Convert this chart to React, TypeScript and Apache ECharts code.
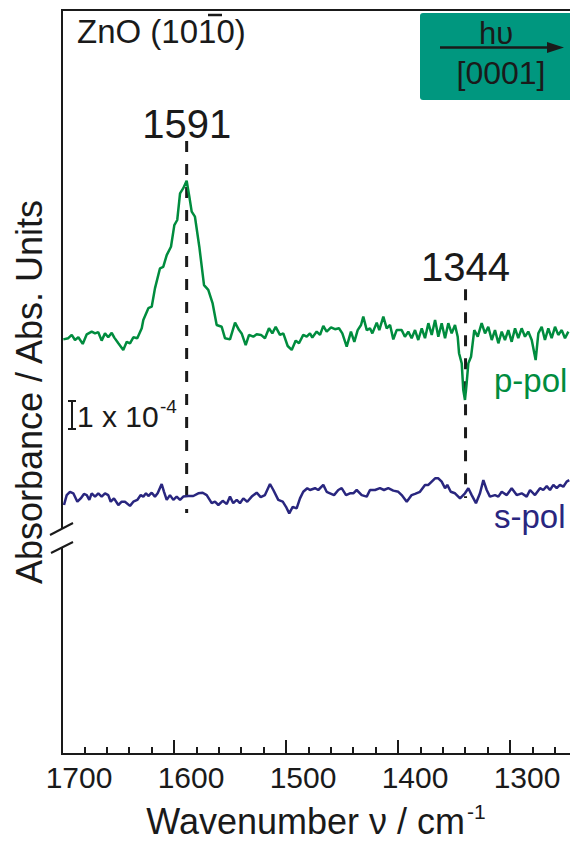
import React, { useEffect, useRef } from 'react';
import * as echarts from 'echarts';

// x axis (wavenumber, cm^-1), reversed
const xMin = 1200;
const xMax = 1700;
const xInterval = 100;

// p-polarised spectrum: [wavenumber, absorbance (1e-4 units, offset)]
const pPol: [number, number][] = [
  [1698.8,-0.16],[1694.4,-0.12],[1691.3,-0.01],[1688.4,-0.18],[1685.4,-0.09],[1681.5,-0.31],[1677.9,0.01],[1673.5,0.10],[1670.5,0.04],[1667.6,0.08],
  [1664.6,-0.20],[1661.6,0.04],[1658.7,-0.09],[1655.6,0.06],[1653.3,-0.10],[1649.7,-0.29],[1645.3,-0.51],[1642.2,-0.24],[1639.3,-0.29],[1636.3,-0.09],
  [1632.8,-0.12],[1628.8,0.21],[1627.4,0.49],[1622.9,0.88],[1619.9,0.93],[1617.0,1.54],[1612.5,2.21],[1609.6,2.26],[1606.5,2.65],[1602.7,2.93],
  [1599.7,3.65],[1597.1,3.82],[1594.6,4.71],[1591.7,4.88],[1588.7,5.13],[1586.3,4.60],[1584.2,4.10],[1581.3,3.93],[1577.4,2.93],[1573.2,1.65],
  [1569.4,1.49],[1565.5,1.04],[1561.9,0.32],[1557.4,0.26],[1554.5,-0.12],[1550.0,-0.16],[1545.5,0.40],[1541.9,0.15],[1539.6,0.04],[1536.0,-0.35],
  [1533.0,-0.01],[1529.2,-0.07],[1526.2,0.01],[1522.3,-0.01],[1518.8,-0.12],[1515.2,0.21],[1512.2,0.04],[1509.2,0.26],[1505.4,-0.01],[1502.4,0.04],
  [1498.5,-0.38],[1494.9,-0.51],[1491.3,-0.20],[1488.4,-0.29],[1484.6,-0.01],[1481.5,-0.07],[1478.6,0.04],[1476.5,-0.10],[1472.6,0.10],[1469.6,-0.01],
  [1466.7,0.29],[1463.7,0.10],[1459.8,0.24],[1456.3,0.18],[1452.7,0.21],[1449.7,0.04],[1445.8,-0.40],[1442.0,0.10],[1439.0,-0.24],[1436.0,0.15],
  [1433.0,0.32],[1431.0,0.60],[1427.9,0.15],[1425.0,0.21],[1422.9,0.04],[1419.0,0.40],[1416.7,0.15],[1413.1,0.60],[1410.1,0.21],[1407.1,0.32],
  [1404.2,-0.16],[1401.2,0.15],[1396.7,0.15],[1393.8,-0.07],[1390.8,0.10],[1387.8,-0.12],[1384.8,0.15],[1381.9,-0.18],[1378.8,0.21],[1375.9,-0.12],
  [1372.9,0.38],[1369.9,-0.01],[1366.9,0.49],[1364.0,-0.07],[1361.0,0.38],[1358.0,-0.12],[1355.1,0.38],[1352.1,0.04],[1349.1,0.32],[1346.7,-0.07],
  [1345.5,-0.62],[1343.1,-0.96],[1341.7,-1.85],[1340.2,-2.18],[1338.7,-1.62],[1337.2,-0.96],[1334.8,-0.74],[1331.9,0.15],[1328.8,-0.07],[1325.3,0.38],
  [1322.3,0.04],[1319.4,0.26],[1316.3,-0.18],[1313.4,0.15],[1310.4,-0.29],[1307.4,0.10],[1304.5,-0.18],[1301.5,0.15],[1298.5,-0.24],[1295.5,0.21],
  [1292.6,-0.12],[1289.6,0.21],[1286.6,-0.07],[1283.7,0.10],[1280.6,-0.18],[1277.1,-0.85],[1274.7,0.04],[1271.7,0.26],[1268.8,-0.18],[1265.8,0.21],
  [1262.8,-0.12],[1259.8,0.26],[1256.9,-0.01],[1253.8,0.15],[1250.9,-0.12],[1247.9,0.10]
];

// s-polarised spectrum (plotted with its offset)
const sPol: [number, number][] = [
  [1698.2,-5.68],[1695.8,-5.35],[1692.9,-5.24],[1689.9,-5.29],[1686.3,-5.57],[1683.3,-5.46],[1680.4,-5.31],[1677.9,-5.35],[1675.6,-5.51],[1673.5,-5.29],
  [1670.5,-5.40],[1667.6,-5.29],[1664.6,-5.40],[1661.6,-5.29],[1658.7,-5.35],[1656.5,-5.57],[1653.6,-5.46],[1649.7,-5.68],[1646.7,-5.57],[1643.8,-5.57],
  [1639.3,-5.71],[1636.3,-5.57],[1632.8,-5.51],[1629.7,-5.35],[1627.4,-5.40],[1625.0,-5.29],[1622.9,-5.38],[1619.9,-5.27],[1617.0,-5.40],[1614.6,-5.29],
  [1611.0,-4.98],[1608.9,-5.24],[1606.5,-5.51],[1603.6,-5.35],[1600.6,-5.51],[1597.6,-5.40],[1594.6,-5.51],[1591.7,-5.40],[1587.2,-5.38],[1582.8,-5.38],
  [1578.3,-5.29],[1574.4,-5.27],[1570.8,-5.35],[1566.3,-5.62],[1563.4,-5.57],[1560.4,-5.68],[1556.5,-5.54],[1552.9,-5.65],[1550.0,-5.40],[1547.1,-5.62],
  [1544.0,-5.51],[1541.1,-5.62],[1538.1,-5.46],[1534.6,-5.57],[1530.6,-5.40],[1526.2,-5.27],[1522.6,-5.42],[1518.8,-5.35],[1514.3,-4.98],[1511.3,-5.18],
  [1506.9,-5.51],[1502.9,-5.57],[1500.0,-5.74],[1497.1,-5.96],[1494.0,-5.74],[1490.5,-5.79],[1487.5,-5.46],[1484.6,-5.24],[1481.0,-5.12],[1478.6,-5.18],
  [1474.1,-5.12],[1471.2,-5.18],[1466.7,-5.01],[1463.7,-5.24],[1460.7,-5.29],[1457.1,-5.35],[1453.3,-5.18],[1450.3,-5.12],[1446.4,-5.35],[1442.9,-5.29],
  [1439.9,-5.29],[1436.9,-5.18],[1432.4,-5.35],[1427.9,-5.40],[1425.0,-5.18],[1420.5,-5.18],[1416.1,-5.12],[1412.5,-5.18],[1408.7,-5.12],[1404.2,-5.20],
  [1399.7,-5.24],[1396.7,-5.35],[1392.2,-5.57],[1387.8,-5.35],[1384.8,-5.31],[1380.4,-5.24],[1375.9,-5.01],[1372.9,-5.01],[1369.9,-4.90],[1366.9,-4.79],
  [1364.0,-4.79],[1361.0,-4.90],[1358.0,-5.12],[1356.0,-5.01],[1352.9,-5.24],[1349.1,-5.29],[1344.6,-5.46],[1340.2,-5.29],[1337.2,-5.12],[1334.2,-5.35],
  [1330.4,-5.62],[1326.8,-5.29],[1323.8,-4.85],[1320.8,-5.18],[1317.9,-5.40],[1313.4,-5.35],[1310.4,-5.40],[1307.4,-5.24],[1302.9,-5.35],[1298.5,-5.12],
  [1294.0,-5.35],[1289.6,-5.29],[1285.1,-5.40],[1282.1,-5.18],[1277.7,-5.35],[1273.2,-5.12],[1270.3,-5.18],[1267.2,-5.05],[1264.3,-5.18],[1261.3,-5.01],
  [1258.3,-5.12],[1255.4,-5.01],[1252.4,-5.07],[1249.4,-4.90],[1247.1,-4.85]
];

// marked bands
const peakWavenumbers = [1588.7, 1339.7];
const peakLabels = ['1591', '1344'];
const peakLineTop = [6.45, 1.51];
const peakLineBottom = [-5.95, -5.45];
const peakLabelY = [7.02, 2.24];

const FONT = '"Liberation Sans", Arial, Helvetica, sans-serif';
const INK = '#1a1a1a';
const GREEN = '#008c3e';
const NAVY = '#29267f';
const TEAL = '#00977f';

export default function App() {
  const ref = useRef<HTMLDivElement>(null);

  useEffect(() => {
    if (!ref.current) return;
    const chart = echarts.init(ref.current, null, { renderer: 'svg' });
    const ax = { stroke: INK, lineWidth: 2 };
    const txt = (x: number, y: number, text: string, fontSize: number, fill: string, align = 'left') => ({
      type: 'text', x, y,
      style: { text, fontSize, fontFamily: FONT, fill, align, verticalAlign: 'middle' },
    });
    const option: any = {
      animation: false,
      backgroundColor: '#ffffff',
      grid: { left: 62, right: -52, top: 10, bottom: 88, outerBoundsMode: 'none', containLabel: false },
      xAxis: {
        type: 'value',
        min: xMin,
        max: xMax,
        interval: xInterval,
        inverse: true,
        axisLine: { show: true, onZero: false, lineStyle: { color: INK, width: 2 } },
        axisTick: { show: true, inside: true, length: 14, lineStyle: { color: INK, width: 2 } },
        minorTick: { show: true, splitNumber: 5, length: 7, lineStyle: { color: INK, width: 2 } },
        axisLabel: {
          fontSize: 30, color: INK, fontFamily: FONT, margin: 8, padding: [0, 0, 0, 34],
          showMinLabel: false,
          formatter: (v: number) => (v <= xMin ? '' : String(v)),
        },
        splitLine: { show: false },
      },
      yAxis: { type: 'value', min: -13.98, max: 10.82, show: false },
      series: [
        ...peakWavenumbers.map((w, i) => ({
          type: 'line',
          data: [[w, peakLineTop[i]], [w, peakLineBottom[i]]],
          symbol: 'none',
          lineStyle: { color: INK, width: 3, type: [11, 12] },
          z: 2,
        })),
        {
          type: 'line', name: 'p-pol', data: pPol, symbol: 'none',
          lineStyle: { color: GREEN, width: 2.5 }, z: 3,
        },
        {
          type: 'line', name: 's-pol', data: sPol, symbol: 'none',
          lineStyle: { color: NAVY, width: 2.5 }, z: 3,
        },
        {
          type: 'scatter',
          data: peakWavenumbers.map((w, i) => [w, peakLabelY[i], peakLabels[i]]),
          symbolSize: 0,
          itemStyle: { color: INK, opacity: 1 },
          label: {
            show: true, position: 'inside', fontSize: 40, color: INK, fontFamily: FONT,
            opacity: 1, textBorderWidth: 0,
            formatter: (p: any) => p.data[2],
          },
          z: 4,
        },
      ],
      graphic: [
        { type: 'line', shape: { x1: 62, y1: 10, x2: 570, y2: 10 }, style: ax },
        { type: 'line', shape: { x1: 62, y1: 9, x2: 62, y2: 529 }, style: ax },
        { type: 'line', shape: { x1: 62, y1: 548, x2: 62, y2: 755 }, style: ax },
        { type: 'line', shape: { x1: 50, y1: 535, x2: 73, y2: 523 }, style: ax },
        { type: 'line', shape: { x1: 51, y1: 553, x2: 73, y2: 542 }, style: ax },
        txt(77, 31.5, 'ZnO (1010)', 33, INK),
        { type: 'line', shape: { x1: 208, y1: 15, x2: 222, y2: 15 }, style: { stroke: INK, lineWidth: 2.5 } },
        { type: 'rect', shape: { x: 420, y: 13, width: 160, height: 87, r: 3 }, style: { fill: TEAL } },
        txt(496, 33, 'hυ', 31, INK, 'center'),
        { type: 'line', shape: { x1: 440, y1: 47.5, x2: 552, y2: 47.5 }, style: { stroke: INK, lineWidth: 2.5 } },
        { type: 'polygon', shape: { points: [[547, 42], [564, 47.5], [547, 53]] }, style: { fill: INK } },
        txt(501, 73, '[0001]', 32, INK, 'center'),
        { type: 'line', shape: { x1: 72, y1: 401, x2: 72, y2: 429 }, style: ax },
        { type: 'line', shape: { x1: 68, y1: 401, x2: 76, y2: 401 }, style: ax },
        { type: 'line', shape: { x1: 68, y1: 429, x2: 76, y2: 429 }, style: ax },
        txt(77, 416, '1 x 10', 30, INK),
        txt(160, 406, '-4', 19, INK),
        txt(494, 380, 'p-pol', 33, GREEN),
        txt(494, 516, 's-pol', 33, NAVY),
        {
          type: 'text', x: 29, y: 392, rotation: Math.PI / 2,
          style: { text: 'Absorbance / Abs. Units', fontSize: 36, fontFamily: FONT, fill: INK, align: 'center', verticalAlign: 'middle' },
        },
        txt(465, 821, 'Wavenumber ν / cm', 36, INK, 'right'),
        txt(467, 811, '-1', 21, INK),
      ],
    };
    chart.setOption(option);
    return () => chart.dispose();
  }, []);

  return (
    <div
      ref={ref}
      style={{ position: 'fixed', left: 0, top: 0, width: 570, height: 842, background: '#fff' }}
    />
  );
}
